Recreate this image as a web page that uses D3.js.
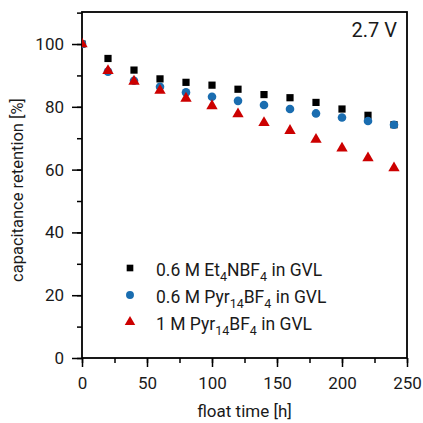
<!DOCTYPE html>
<html><head><meta charset="utf-8">
<script src="https://cdn.jsdelivr.net/npm/d3@7"></script>
<style>body{margin:0;background:#fff}svg{display:block;font-family:Roboto,"Noto Sans",sans-serif}</style>
</head><body>
<script>
const times = [0,20,40,60,80,100,120,140,160,180,200,220,240];
const et4nbf4 = [100,95.4,91.7,88.9,87.8,86.9,85.6,83.9,82.9,81.4,79.3,77.3,74.3];
const pyr06 = [100,91.2,88.3,86.4,84.6,83.2,81.9,80.6,79.3,77.9,76.6,75.5,74.3];
const pyr1 = [100,91.5,88.1,85.2,82.7,80.3,77.7,74.9,72.4,69.6,66.8,63.7,60.5];
const seriesNames = ["0.6 M Et<sub>4</sub>NBF<sub>4</sub> in GVL","0.6 M Pyr<sub>14</sub>BF<sub>4</sub> in GVL","1 M Pyr<sub>14</sub>BF<sub>4</sub> in GVL"];
const xTicks = [0,50,100,150,200,250];
const yTicks = [0,20,40,60,80,100];

const W=423,H=423, L=82, R=407, T=12, B=358;
const svg = d3.select("body").append("svg").attr("width",W).attr("height",H);
const x = d3.scaleLinear().domain([0,250]).range([L,R]);
const y = d3.scaleLinear().domain([0,110.2]).range([B,T]);

// minor ticks
const gx = svg.append("g").attr("transform",`translate(0,${B})`);
gx.call(d3.axisBottom(x).tickValues(d3.range(0,251,25)).tickSize(5).tickFormat(""));
gx.select(".domain").remove();
gx.selectAll("text").remove();
const gx2 = svg.append("g").attr("transform",`translate(0,${B})`)
  .call(d3.axisBottom(x).tickValues(xTicks).tickSize(9).tickPadding(10).tickFormat(d3.format("d")));
gx2.select(".domain").remove();
const gy = svg.append("g").attr("transform",`translate(${L},0)`);
gy.call(d3.axisLeft(y).tickValues(d3.range(0,111,10)).tickSize(5).tickFormat(""));
gy.select(".domain").remove();
gy.selectAll("text").remove();
const gy2 = svg.append("g").attr("transform",`translate(${L},0)`)
  .call(d3.axisLeft(y).tickValues(yTicks).tickSize(10).tickPadding(8).tickFormat(d3.format("d")));
gy2.select(".domain").remove();
svg.selectAll(".tick line").attr("stroke","#000").attr("stroke-width",1.5);
svg.selectAll(".tick text").attr("font-size",17).attr("fill","#1a1a1a").attr("font-family","Roboto");

svg.append("rect").attr("x",L).attr("y",T).attr("width",R-L).attr("height",B-T)
  .attr("fill","none").attr("stroke","#000").attr("stroke-width",1.8);

const colors=["#000000","#1a6db0","#cc0000"];
const sym=[d3.symbolSquare,d3.symbolCircle,d3.symbolTriangle];
const sizes=[52,58,56];
const data=[et4nbf4,pyr06,pyr1];
svg.append("clipPath").attr("id","c").append("rect").attr("x",L).attr("y",T).attr("width",R-L).attr("height",B-T);
data.forEach((vals,i)=>{
  svg.append("g").attr("clip-path","url(#c)").selectAll("path").data(times.map((t,j)=>[t,vals[j]])).join("path")
    .attr("d",d3.symbol(sym[i],sizes[i]))
    .attr("transform",d=>`translate(${x(d[0])},${y(d[1])})`)
    .attr("fill",colors[i]);
});

// legend
const legY=[268,295,322];
seriesNames.forEach((n,i)=>{
  svg.append("path").attr("d",d3.symbol(sym[i],sizes[i]*0.85)).attr("transform",`translate(130,${legY[i]})`).attr("fill",colors[i]);
  const t = svg.append("text").attr("x",156).attr("y",legY[i]+8).attr("font-size",17.5).attr("fill","#1a1a1a");
  let inSub=false;
  n.split(/(<sub>.*?<\/sub>)/).filter(p=>p).forEach(part=>{
    const m = part.match(/<sub>(.*?)<\/sub>/);
    if(m){ t.append("tspan").attr("dy",inSub?0:4.5).attr("font-size",12.5).text(m[1]); inSub=true; }
    else { t.append("tspan").attr("dy",inSub?-4.5:0).text(part); inSub=false; }
  });
});

svg.append("text").attr("x",397).attr("y",37).attr("text-anchor","end").attr("font-size",20).attr("fill","#1a1a1a").text("2.7 V");
svg.append("text").attr("x",(L+R)/2).attr("y",417).attr("text-anchor","middle").attr("font-size",17).attr("fill","#1a1a1a").text("float time [h]");
svg.append("text").attr("transform",`translate(23,190) rotate(-90)`).attr("text-anchor","middle").attr("font-size",16.5).attr("fill","#1a1a1a").text("capacitance retention [%]");
</script>
</body></html>
